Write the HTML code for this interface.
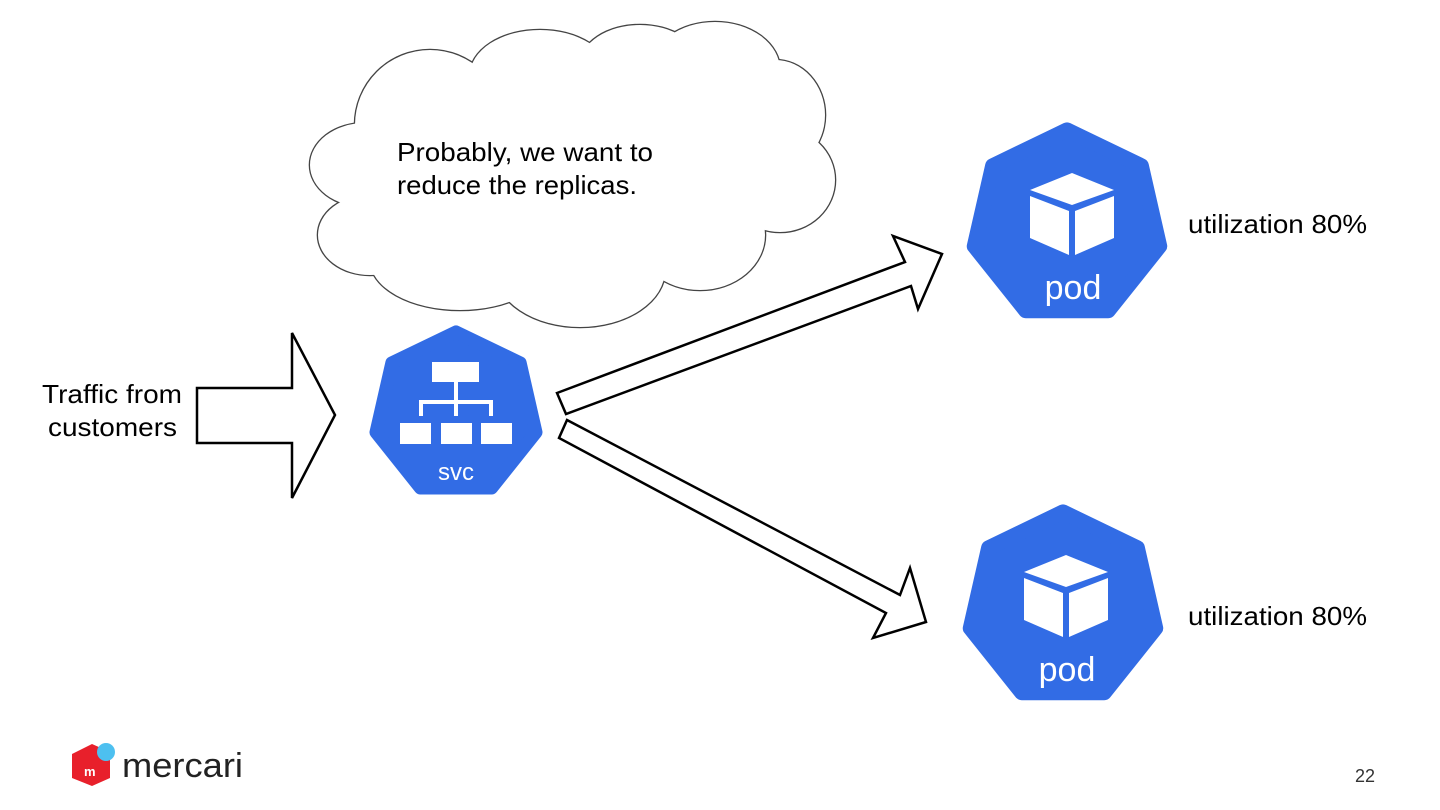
<!DOCTYPE html>
<html><head><meta charset="utf-8"><style>
html,body{margin:0;padding:0;background:#fff;}
svg{display:block}
text{font-family:"Liberation Sans",sans-serif;}
</style></head><body>
<svg width="1440" height="810" viewBox="0 0 1440 810" xmlns="http://www.w3.org/2000/svg">
<defs>
<polygon id="hep" points="0,-1 0.782,-0.623 0.975,0.223 0.434,0.901 -0.434,0.901 -0.975,0.223 -0.782,-0.623"/>
<g id="cl">
<ellipse cx="430" cy="125" rx="75" ry="75"/>
<ellipse cx="540" cy="75" rx="70" ry="45"/>
<ellipse cx="640" cy="65" rx="60" ry="40"/>
<ellipse cx="715" cy="70" rx="65" ry="48"/>
<ellipse cx="775" cy="115" rx="50" ry="55"/>
<ellipse cx="780" cy="180" rx="55" ry="52"/>
<ellipse cx="700" cy="235" rx="65" ry="55"/>
<ellipse cx="580" cy="270" rx="85" ry="57"/>
<ellipse cx="460" cy="260" rx="90" ry="50"/>
<ellipse cx="370" cy="235" rx="52" ry="40"/>
<ellipse cx="365" cy="165" rx="55" ry="42"/>
</g>
</defs>
<use href="#cl" fill="none" stroke="#444" stroke-width="2.6"/>
<use href="#cl" fill="#fff"/>
<ellipse cx="580" cy="170" rx="210" ry="110" fill="#fff"/>
<text x="397" y="161" font-size="26" textLength="256" lengthAdjust="spacingAndGlyphs">Probably, we want to</text>
<text x="397" y="194" font-size="26" textLength="240" lengthAdjust="spacingAndGlyphs">reduce the replicas.</text>

<polygon points="197,388 292,388 292,333 335,415 292,498 292,443 197,443" fill="#fff" stroke="#000" stroke-width="2.5"/>
<text x="42" y="403" font-size="26" textLength="140" lengthAdjust="spacingAndGlyphs">Traffic from</text>
<text x="48" y="436" font-size="26" textLength="129" lengthAdjust="spacingAndGlyphs">customers</text>

<polygon points="557,393 905,262 893,236 942,254 918,309 911,286 566,414" fill="#fff" stroke="#000" stroke-width="2.5"/>
<polygon points="567,420 900,595 910,568 926,622 873,638 886,613 559,438" fill="#fff" stroke="#000" stroke-width="2.5"/>

<g transform="translate(456,414) scale(82)"><use href="#hep" fill="#326ce5" stroke="#326ce5" stroke-width="0.16" stroke-linejoin="round"/></g>
<g fill="#fff">
<rect x="432" y="362" width="47" height="20"/>
<rect x="454" y="382" width="4" height="20"/>
<rect x="419" y="400" width="73" height="4"/>
<rect x="419" y="400" width="4" height="16"/>
<rect x="454" y="400" width="4" height="16"/>
<rect x="489" y="400" width="4" height="16"/>
<rect x="400" y="423" width="31" height="21"/>
<rect x="441" y="423" width="31" height="21"/>
<rect x="481" y="423" width="31" height="21"/>
</g>
<text x="456" y="480" font-size="24" fill="#fff" text-anchor="middle" font-family="DejaVu Sans">svc</text>

<g transform="translate(1067,225) scale(95)"><use href="#hep" fill="#326ce5" stroke="#326ce5" stroke-width="0.16" stroke-linejoin="round"/></g>
<g fill="#fff">
<polygon points="1030,190 1072,173 1114,190 1072,205"/>
<polygon points="1030,196 1069,211 1069,255 1030,238"/>
<polygon points="1075,211 1114,196 1114,238 1075,255"/>
</g>
<text x="1073" y="299" font-size="34" fill="#fff" text-anchor="middle" font-family="DejaVu Sans">pod</text>
<text x="1188" y="233" font-size="26" textLength="179" lengthAdjust="spacingAndGlyphs">utilization 80%</text>

<g transform="translate(1063,607) scale(95)"><use href="#hep" fill="#326ce5" stroke="#326ce5" stroke-width="0.16" stroke-linejoin="round"/></g>
<g fill="#fff">
<polygon points="1024,572 1066,555 1108,572 1066,587"/>
<polygon points="1024,578 1063,593 1063,637 1024,620"/>
<polygon points="1069,593 1108,578 1108,620 1069,637"/>
</g>
<text x="1067" y="681" font-size="34" fill="#fff" text-anchor="middle" font-family="DejaVu Sans">pod</text>
<text x="1188" y="625" font-size="26" textLength="179" lengthAdjust="spacingAndGlyphs">utilization 80%</text>

<polygon points="72,754 92,744 110,752 110,778 92,786 72,778" fill="#e8202b"/>
<circle cx="106" cy="752" r="9" fill="#4dc0f0"/>
<text x="84" y="776" font-size="13" fill="#fff" font-weight="bold">m</text>
<text x="122" y="777" font-size="34" fill="#222" font-family="DejaVu Sans" textLength="121" lengthAdjust="spacingAndGlyphs">mercari</text>

<text x="1355" y="782" font-size="18" fill="#333">22</text>
</svg>
</body></html>
